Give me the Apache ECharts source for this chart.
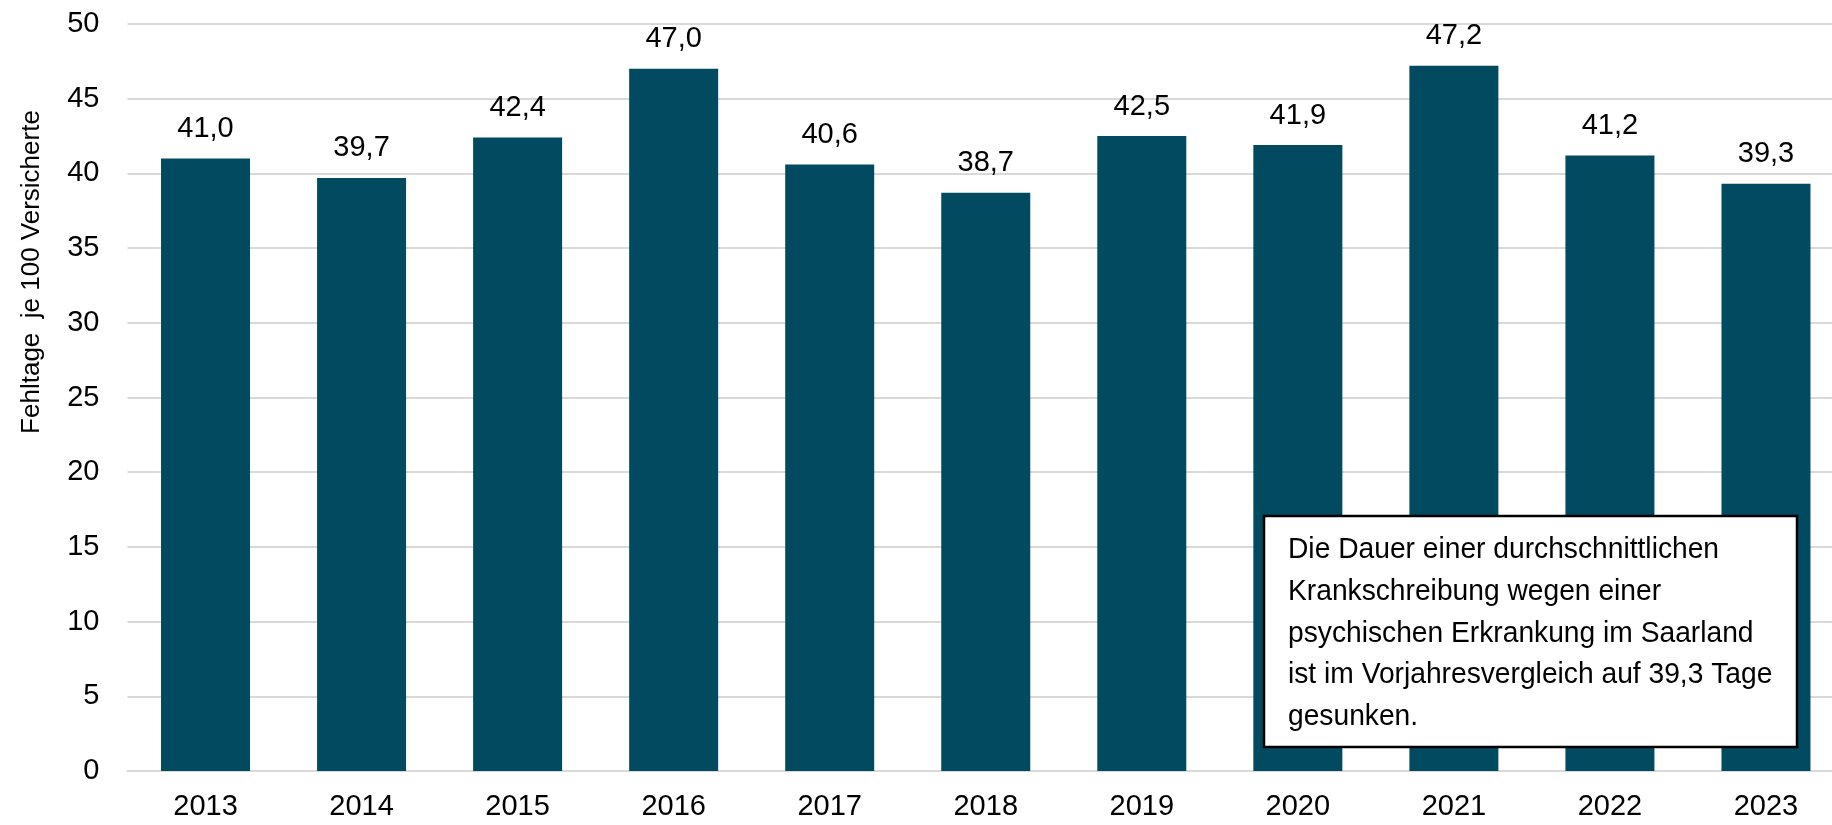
<!DOCTYPE html>
<html>
<head>
<meta charset="utf-8">
<script src="https://cdn.jsdelivr.net/npm/echarts@6/dist/echarts.min.js"></script>
<style>
html,body{margin:0;padding:0;background:#fff;overflow:hidden;width:1832px;height:825px;}
#c{width:1844px;height:825px;}
</style>
</head>
<body>
<div id="c"></div>
<script>
const years = ['2013','2014','2015','2016','2017','2018','2019','2020','2021','2022','2023'];
const values = [41.0, 39.7, 42.4, 47.0, 40.6, 38.7, 42.5, 41.9, 47.2, 41.2, 39.3];
const yTicks = [0, 5, 10, 15, 20, 25, 30, 35, 40, 45, 50];
const yTitle = 'Fehltage  je 100 Versicherte';
const noteLines = [
  'Die Dauer einer durchschnittlichen',
  'Krankschreibung wegen einer',
  'psychischen Erkrankung im Saarland',
  'ist im Vorjahresvergleich auf 39,3 Tage',
  'gesunken.'
];

const FONT = '"Liberation Sans Narrow", "Arial Narrow", "Liberation Sans", Arial, sans-serif';
const fmt = v => Number(v).toFixed(1).replace('.', ',');

const chart = echarts.init(document.getElementById('c'));
chart.setOption({
  animation: false,
  backgroundColor: '#fff',
  grid: { left: 127.5, top: 24, bottom: 54, right: 0, containLabel: false },
  xAxis: {
    type: 'category',
    data: years,
    axisLine: { show: true, lineStyle: { color: '#d9d9d9', width: 2 } },
    axisTick: { show: false },
    axisLabel: { color: '#000', fontFamily: FONT, fontSize: 29, margin: 21 }
  },
  yAxis: {
    type: 'value',
    min: yTicks[0],
    max: yTicks[yTicks.length - 1],
    interval: 5,
    axisLine: { show: false },
    axisTick: { show: false },
    splitLine: { show: true, lineStyle: { color: '#d9d9d9', width: 2 } },
    axisLabel: { color: '#000', fontFamily: FONT, fontSize: 29, margin: 28 }
  },
  series: [{
    type: 'bar',
    data: values,
    barWidth: 89,
    itemStyle: { color: '#024A60' },
    label: {
      show: true,
      position: 'top',
      distance: 15,
      color: '#000',
      fontFamily: FONT,
      fontSize: 29,
      formatter: p => fmt(p.value)
    }
  }],
  graphic: [
    {
      type: 'text',
      x: 32, y: 272,
      rotation: Math.PI / 2,
      style: {
        text: yTitle,
        fill: '#000',
        font: '26px ' + FONT,
        textAlign: 'center',
        textVerticalAlign: 'middle'
      }
    },
    {
      type: 'rect',
      shape: { x: 1264, y: 516, width: 533, height: 231 },
      style: { fill: '#fff', stroke: '#000', lineWidth: 2.5 },
      z: 100
    },
    {
      type: 'text',
      x: 1288, y: 529,
      scaleX: 0.94,
      z: 101,
      style: {
        text: noteLines.join('\n'),
        fill: '#000',
        font: '30px ' + FONT,
        lineHeight: 41.7,
        textAlign: 'left',
        textVerticalAlign: 'top'
      }
    }
  ]
});
</script>
</body>
</html>
